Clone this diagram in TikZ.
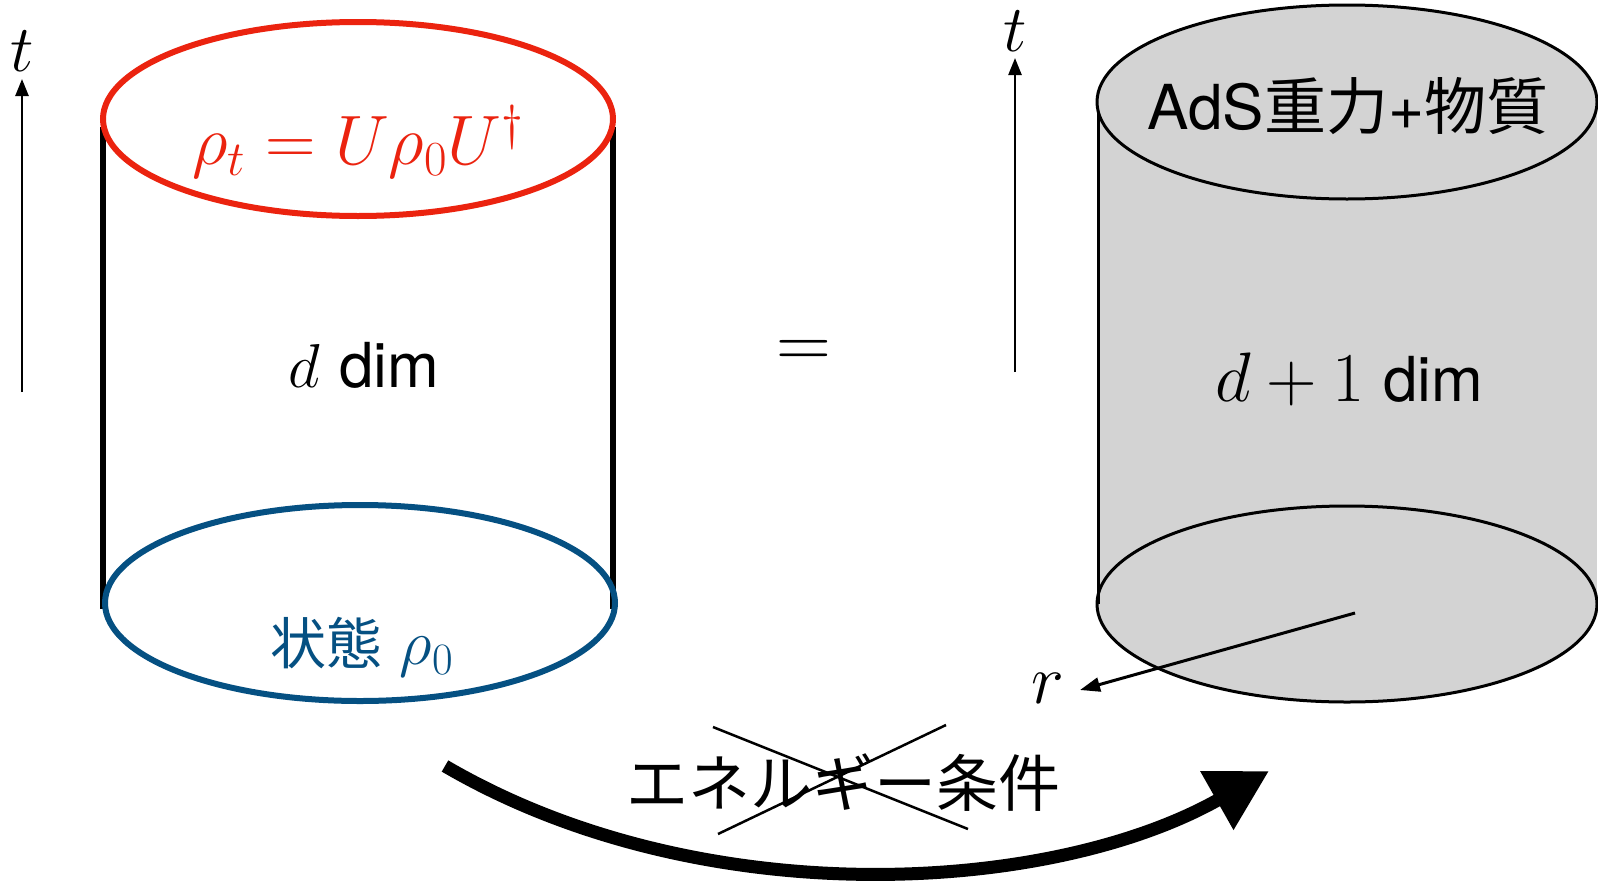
\RequirePackage{fix-cm}
\documentclass[tikz,border=0pt]{standalone}
\usepackage{fontspec}
\newfontfamily\hv{TeX Gyre Heros}
\newfontfamily\jp{Noto Sans CJK JP}
\usetikzlibrary{arrows.meta}
\definecolor{cred}{RGB}{235,35,15}
\definecolor{cblue}{RGB}{5,80,130}
\definecolor{cgray}{RGB}{211,211,211}
\tikzset{
  big/.style={font=\fontsize{#1}{#1}\selectfont, inner sep=0pt},
  taxis/.style={line width=2.5pt, -{Triangle[length=17pt,width=13pt]}},
  cross/.style={line width=2.5pt},
}
\begin{document}
\begin{tikzpicture}[x=1pt,y=-1pt]
\useasboundingbox (0,0) rectangle (1598,886);

% ---------- left cylinder ----------
\draw[line width=5.5pt] (103,127) -- (103,609) (613,127) -- (613,609);
\draw[cred, line width=6pt, fill=white] (358,119) ellipse [x radius=255, y radius=97];
\draw[cblue, line width=6pt] (360,603) ellipse [x radius=255, y radius=98];

\node[big=70, text=cred] (rt) at (358,142) {$\rho_t = U\rho_0U^\dagger$};
\node[big=62] (ddim) at (364,365) {$d$ {\hv dim}};
\node[big=56, text=cblue] (st) at (362,647) {{\jp 状態} {\fontsize{64}{64}\selectfont$\rho_0$}};

% ---------- left time axis ----------
\node[big=66] (t1) at (22,51) {$t$};
\coordinate (t1b) at (22,392);
\coordinate (t1e) at (22,79);
\draw[taxis] (t1b) -- (t1e);

% ---------- equals ----------
\node[big=76] (eq) at (804,354) {$=$};

% ---------- right cylinder ----------
\fill[cgray] (1097,102) rectangle (1597,604);
\fill[cgray] (1347,604) ellipse [x radius=250, y radius=98];
\draw[line width=3pt] (1098,104) -- (1098,604);
\draw[line width=3pt, fill=cgray] (1347,102) ellipse [x radius=250, y radius=97];
\draw[line width=3pt] (1347,604) ellipse [x radius=250, y radius=98];

\node[big=62] (ads) at (1348,106) {{\hv AdS}{\jp 重力}{\hv +}{\jp 物質}};
\node[big=62] (d1) at (1349,379) {{\fontsize{70}{70}\selectfont$d+1$} {\hv dim}};

% ---------- right time axis ----------
\node[big=66] (t2) at (1015,31) {$t$};
\coordinate (t2b) at (1015,372);
\coordinate (t2e) at (1015,58);
\draw[taxis] (t2b) -- (t2e);

% ---------- r axis ----------
\coordinate (rc) at (1355,613);
\coordinate (re) at (1080,690);
\node[big=70] (r) at (1048,688) {$r$};
\draw[line width=3pt, -{Triangle[length=20pt,width=14pt]}] (rc) -- (re);

% ---------- bottom arrow ----------
\coordinate (as) at (445,766);
\coordinate (ae) at (1269,771);
\draw[line width=13pt, -{Triangle[length=60pt,width=64pt]}]
  (as) .. controls (700,915) and (1050,895) .. (ae);

\node[big=62] (en) at (843,783) {\jp エネルギー条件};
\coordinate (c1a) at (713,727);
\coordinate (c1b) at (968,829);
\coordinate (c2a) at (718,834);
\coordinate (c2b) at (946,725);
\draw[cross] (c1a) -- (c1b);
\draw[cross] (c2a) -- (c2b);
\end{tikzpicture}
\end{document}
